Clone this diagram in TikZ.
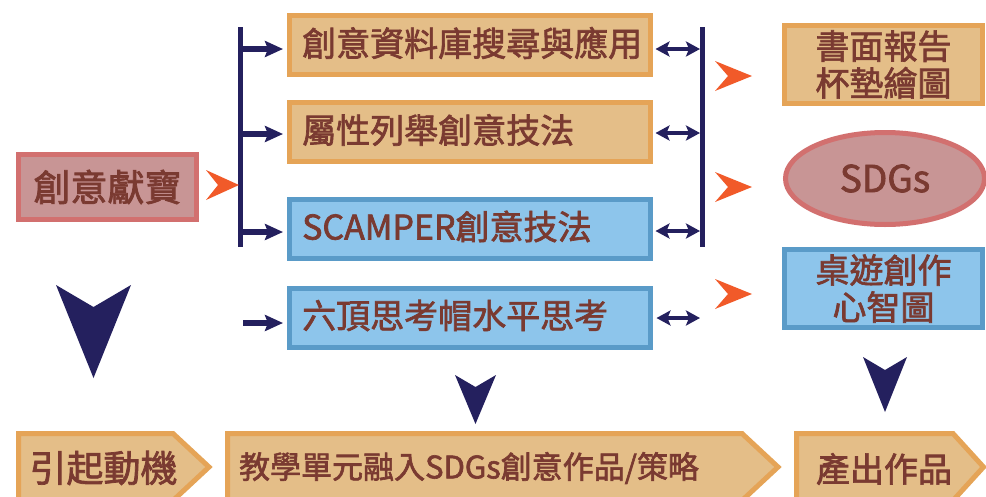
\documentclass[tikz,border=0pt]{standalone}
\usepackage{fontspec}
\setmainfont{Noto Sans CJK TC}[FakeBold=2]
\usetikzlibrary{arrows.meta,shapes.geometric}
\definecolor{ofill}{HTML}{E4BE88}
\definecolor{oline}{HTML}{E5A457}
\definecolor{bfill}{HTML}{8DC5EB}
\definecolor{bline}{HTML}{5A9BC8}
\definecolor{rfill}{HTML}{C89595}
\definecolor{rline}{HTML}{D2706F}
\definecolor{navy}{HTML}{24205E}
\definecolor{oarrow}{HTML}{F15A29}
\definecolor{txt}{HTML}{7A3A31}
\tikzset{
  obox/.style={draw=oline, fill=ofill, line width=5pt, inner sep=0pt, minimum width=361pt, minimum height=59pt},
  bbox/.style={draw=bline, fill=bfill, line width=5pt, inner sep=0pt, minimum width=361pt, minimum height=59pt},
  rbox/.style={line width=5pt, inner sep=0pt, minimum width=198pt, minimum height=78pt, text=txt, align=center, font=\fontsize{34pt}{40pt}\selectfont},
  lbl/.style={text=txt, inner sep=0pt, font=\fontsize{34pt}{40pt}\selectfont},
  biglbl/.style={text=txt, inner sep=0pt, font=\fontsize{37pt}{42pt}\selectfont},
  pent/.style={draw=oline, fill=ofill, line width=5pt, line join=miter},
  bar/.style={draw=navy, line width=5pt},
  sarrow/.style={draw=navy, line width=6.5pt, -{Stealth[length=18pt,width=16pt,inset=3pt]}},
  darrow/.style={draw=navy, line width=4.5pt, {Stealth[length=14pt,width=15pt,inset=3pt]}-{Stealth[length=14pt,width=15pt,inset=3pt]}},
  ochev/.style={fill=oarrow},
  nchev/.style={fill=navy},
}
\begin{document}
\begin{tikzpicture}[x=1pt,y=-1pt]
\clip (0,0) rectangle (986,496);
\fill[white] (0,0) rectangle (986,496);

% left source box
\node[draw=rline, fill=rfill, line width=5pt, inner sep=0pt, minimum width=178pt, minimum height=65pt] (src) at (107.5,187) {};
\node[biglbl] (srct) at (src.center) {創意獻寶};

% middle boxes
\node[obox] (b1) at (470,45) {};
\node[obox] (b2) at (470,132) {};
\node[bbox] (b3) at (470,228.5) {};
\node[bbox] (b4) at (470,317.5) {};
\node[lbl, anchor=west] (t1) at ([xshift=15pt,yshift=2pt]b1.west) {創意資料庫搜尋與應用};
\node[lbl, anchor=west] (t2) at ([xshift=15pt,yshift=2pt]b2.west) {屬性列舉創意技法};
\node[lbl, anchor=west] (t3) at ([xshift=15pt,yshift=2pt]b3.west) {SCAMPER創意技法};
\node[lbl, anchor=west] (t4) at ([xshift=15pt,yshift=2pt]b4.west) {六頂思考帽水平思考};

% right boxes
\node[rbox, draw=oline, fill=ofill] (r1) at (883.5,64.5) {書面報告\\[-3pt]杯墊繪圖};
\node[ellipse, draw=rline, fill=rfill, line width=5pt, inner sep=0pt, minimum width=199pt, minimum height=92pt, text=txt, font=\fontsize{37pt}{42pt}\selectfont] (r2) at (885,178.5) {SDGs};
\node[rbox, draw=bline, fill=bfill] (r3) at (883.5,288.5) {桌遊創作\\[-3pt]心智圖};

% bars
\coordinate (LT) at (240.5,27);
\coordinate (LB) at (240.5,247);
\coordinate (RT) at (702.5,27);
\coordinate (RB) at (702.5,247);
\draw[bar] (LT) -- (LB);
\draw[bar] (RT) -- (RB);

% small arrows from left bar
\coordinate (s1) at (243,49);
\coordinate (s2) at (243,134);
\coordinate (s3) at (243,232);
\coordinate (s4) at (243,323);
\draw[sarrow, shorten >=4pt] (s1) -- (b1.west |- s1);
\draw[sarrow, shorten >=4pt] (s2) -- (b2.west |- s2);
\draw[sarrow, shorten >=4pt] (s3) -- (b3.west |- s3);
\draw[sarrow, shorten >=4pt] (s4) -- (b4.west |- s4);

% double arrows to right bar
\coordinate (d1) at (700,49);
\coordinate (d2) at (700,133);
\coordinate (d3) at (700,231);
\coordinate (d4) at (700,318);
\draw[darrow, shorten <=2.5pt] (b1.east |- d1) -- (d1);
\draw[darrow, shorten <=2.5pt] (b2.east |- d2) -- (d2);
\draw[darrow, shorten <=2.5pt] (b3.east |- d3) -- (d3);
\draw[darrow, shorten <=3.5pt] (b4.east |- d4) -- (d4);

% orange chevrons
\fill[ochev] (206,170) -- (239,185) -- (206,200) -- (218,185) -- cycle;
\fill[ochev] (715,61) -- (752,76) -- (715,91) -- (728,76) -- cycle;
\fill[ochev] (715,172) -- (752,187) -- (715,202) -- (728,187) -- cycle;
\fill[ochev] (715,279) -- (752,294) -- (715,309) -- (728,294) -- cycle;

% navy chevrons
\fill[nchev] (56,285) -- (93.5,307) -- (131,285) -- (93.5,378) -- cycle;
\fill[nchev] (455,375) -- (475.5,387) -- (496,375) -- (475.5,424) -- cycle;
\fill[nchev] (863,357) -- (885,370) -- (907,357) -- (885,412) -- cycle;

% bottom pentagons
\draw[pent] (18.5,433.5) -- (173,433.5) -- (209,467) -- (173,500.5) -- (18.5,500.5) -- cycle;
\draw[pent] (227.5,433.5) -- (742,433.5) -- (778,467) -- (742,500.5) -- (227.5,500.5) -- cycle;
\draw[pent] (796.5,433.5) -- (953,433.5) -- (983.5,467) -- (953,500.5) -- (796.5,500.5) -- cycle;
\node[biglbl] (p1) at (103.5,468) {引起動機};
\node[text=txt, inner sep=0pt, font=\fontsize{31pt}{36pt}\selectfont] (p2) at (469,468) {教學單元融入SDGs創意作品/策略};
\node[lbl] (p3) at (884,469) {產出作品};
\end{tikzpicture}
\end{document}
